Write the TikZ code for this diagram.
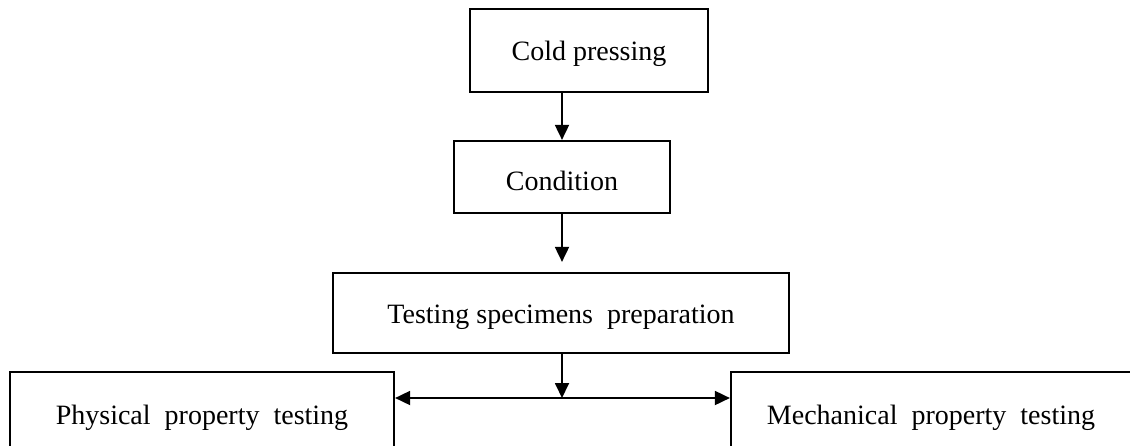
\documentclass[tikz,border=0pt]{standalone}
\usepackage{fontspec}
\setmainfont{Liberation Serif}
\usepackage{tikz}
\usetikzlibrary{arrows.meta}

\begin{document}
\begin{tikzpicture}[x=1pt,y=1pt,
		>={Triangle[length=15pt,width=14pt]},
		stage/.style={draw,line width=2.2pt,inner sep=0pt,
			text height=20pt,text depth=0pt,
			font=\fontsize{28}{34}\selectfont},
		flow/.style={line width=1.8pt}
		]
		\useasboundingbox (0,0) rectangle (1130,-445);
		\clip (0,0) rectangle (1130,-445);
		% process boxes
		\node[stage,minimum width=238pt,minimum height=83pt] (cold) at (589,-50.5) {Cold pressing};
		\node[stage,minimum width=216pt,minimum height=72pt,text height=27pt] (cond) at (562,-177) {Condition};
		\node[stage,minimum width=456pt,minimum height=80pt] (prep) at (561,-313) {Testing specimens~~preparation};
		\node[stage,minimum width=384pt,minimum height=84pt] (phys) at (202,-414) {Physical~~property~~testing};
		\node[stage,minimum width=400pt,minimum height=84pt] (mech) at (931,-414) {Mechanical~~property~~testing};
		\coordinate (split) at (562,-398);
		% connectors
		\draw[flow,->] (cold.south -| cond.north) -- (cond.north);
		\draw[flow,->,shorten >=10pt] (cond.south) -- (cond.south |- prep.north);
		\draw[flow,->] (prep.south -| split) -- (split);
		\draw[flow,<->] (phys.east |- split) -- (mech.west |- split);
\end{tikzpicture}
\end{document}
